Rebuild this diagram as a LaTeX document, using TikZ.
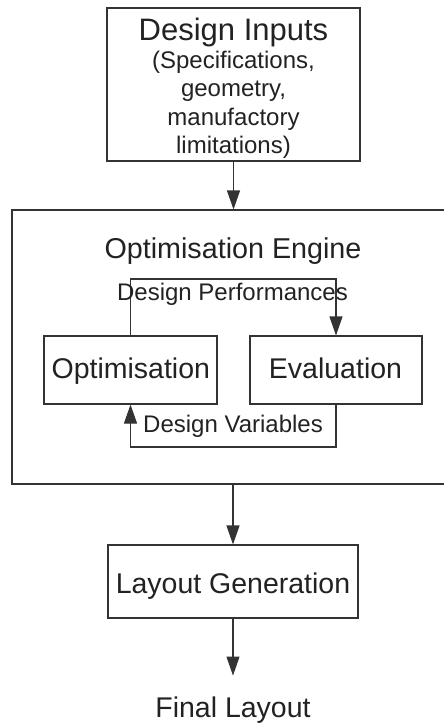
\documentclass[tikz,border=0pt]{standalone}
\usepackage{fontspec}
\setmainfont{Liberation Sans}
\usetikzlibrary{arrows.meta}

\definecolor{ink}{HTML}{222222}
\definecolor{wire}{HTML}{333333}

\tikzset{
  box/.style={draw=wire, line width=1.1pt, inner sep=0pt, rectangle},
  lbl/.style={text=ink, inner sep=0pt, anchor=base},
  big/.style={font=\fontsize{28.5pt}{34pt}\selectfont},
  small/.style={font=\fontsize{24pt}{28.5pt}\selectfont},
  arr/.style={draw=wire, line width=1.1pt,
    -{Triangle[length=19pt,width=13pt]}},
  link/.style={draw=wire, line width=1.1pt}
}

\begin{document}
\begin{tikzpicture}[x=1pt, y=-1pt]
  \useasboundingbox (0,0) rectangle (444,724);
  \clip (0,0) rectangle (444,724);

  % design inputs
  \node[box, minimum width=253pt, minimum height=153pt] (inputs) at (233.5,84.5) {};
  \node[lbl, font=\fontsize{31pt}{36pt}\selectfont] (inputs-title) at (233.5,40) {Design Inputs};
  \node[text=ink, inner sep=0pt, anchor=north, align=center, small] (inputs-body)
    at (233.5,50.5) {(Specifications,\\geometry,\\manufactory\\limitations)};

  % optimisation engine (runs off the right edge)
  \node[box, minimum width=443pt, minimum height=274pt] (engine) at (233.5,347) {};
  \node[lbl, font=\fontsize{28.7pt}{34pt}\selectfont] (engine-title) at (233,258) {Optimisation Engine};

  \node[box, minimum width=173pt, minimum height=68pt] (opt) at (130.5,370) {};
  \node[lbl, big] (opt-text) at (130.8,378) {Optimisation};
  \node[box, minimum width=172pt, minimum height=68pt] (eval) at (336,370) {};
  \node[lbl, big] (eval-text) at (335.5,378) {Evaluation};

  % inner loop
  \coordinate (ptop) at (233,279);
  \coordinate (pbot) at (233,447);
  \draw[arr] (opt.north) |- (ptop) -| (eval.north);
  \draw[arr] (eval.south) |- (pbot) -| (opt.south);
  \node[lbl, small] (perf) at (232.5,300) {Design Performances};
  \node[lbl, small] (vars) at (233,432) {Design Variables};

  % layout generation
  \node[box, minimum width=250pt, minimum height=73pt] (layout) at (233,581.5) {};
  \node[lbl, big] (layout-text) at (233,593) {Layout Generation};

  % final output
  \node[lbl, big, inner ysep=20.6pt] (final) at (233,717) {Final Layout};

  % main flow
  \draw[arr] (inputs.south) -- (inputs.south |- engine.north);
  \draw[arr] (engine.south -| layout.north) -- (layout.north);
  \draw[arr] (layout.south) -- (final.north);
\end{tikzpicture}
\end{document}
